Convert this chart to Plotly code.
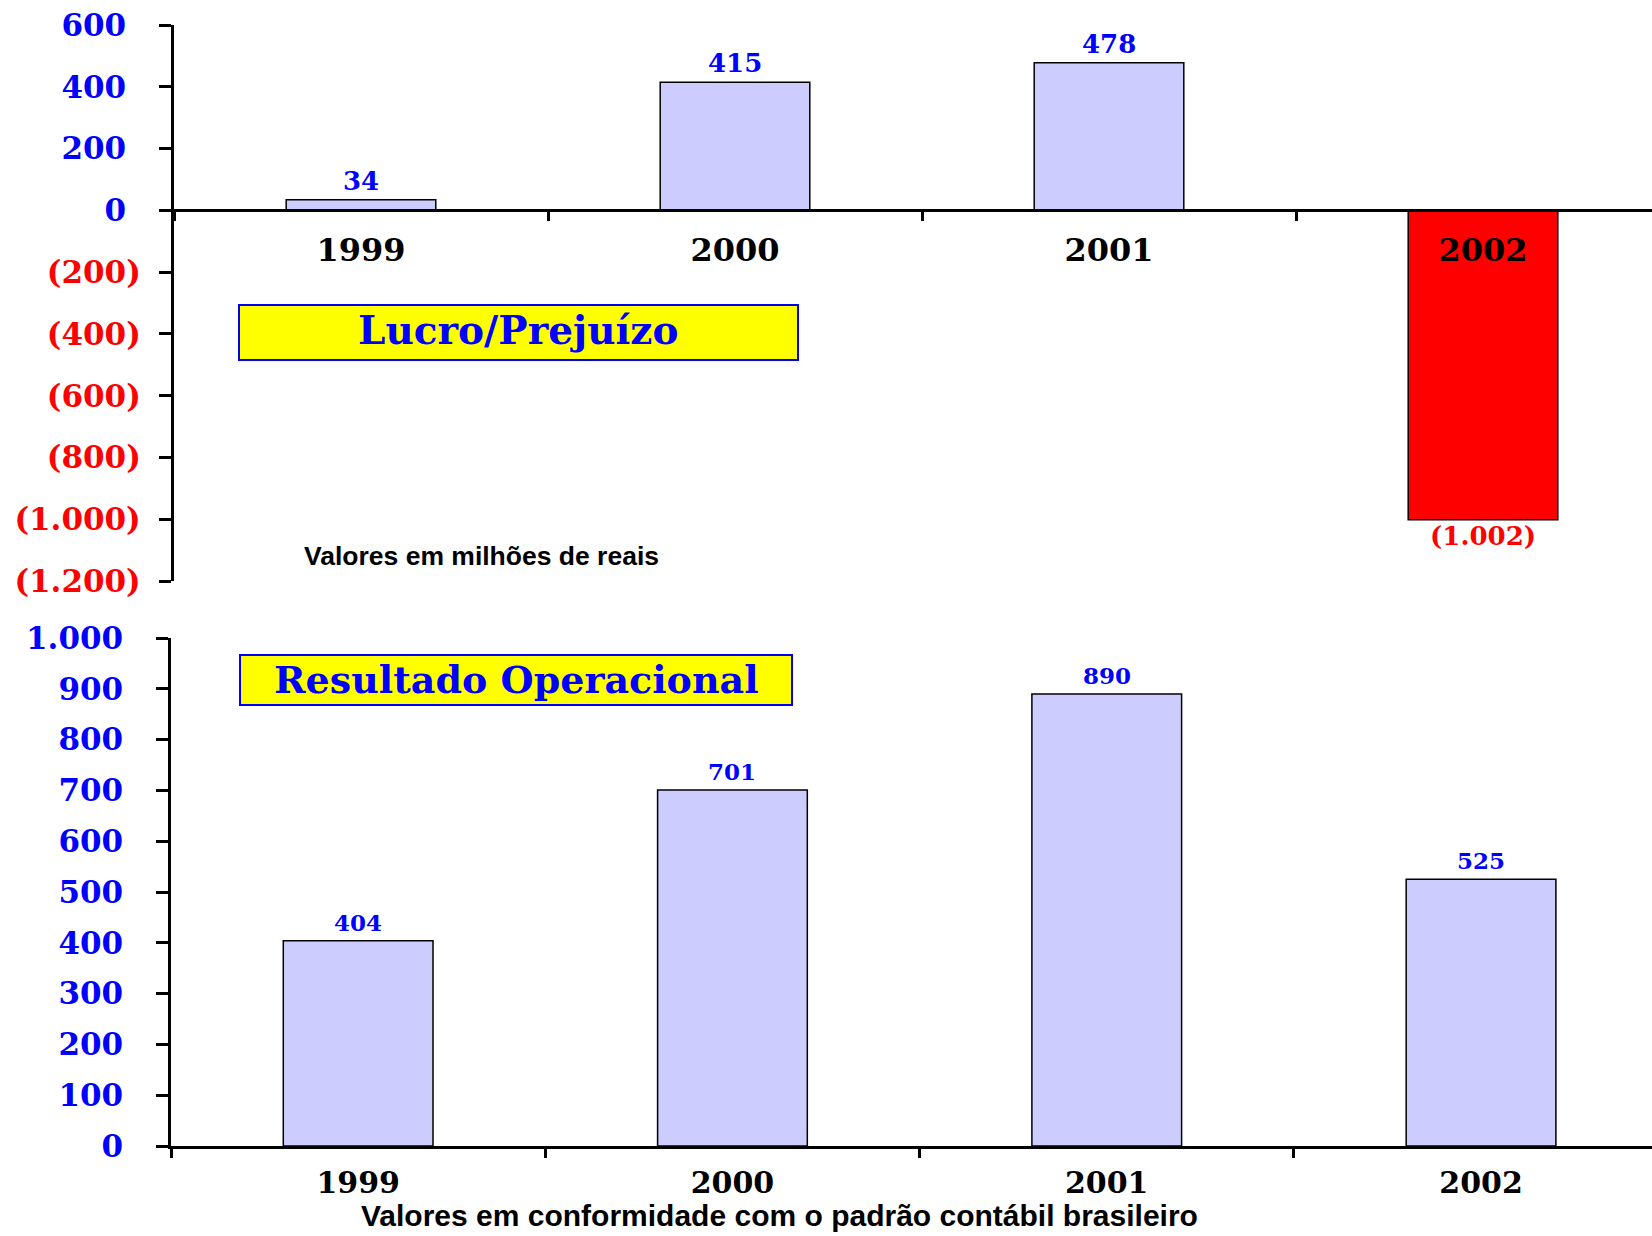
import plotly.graph_objects as go

# ---------------- data ----------------
years = ["1999", "2000", "2001", "2002"]
lucro = [34, 415, 478, -1002]
resultado = [404, 701, 890, 525]
lucro_ticks = [-1200, -1000, -800, -600, -400, -200, 0, 200, 400, 600]
result_ticks = [0, 100, 200, 300, 400, 500, 600, 700, 800, 900, 1000]

W, H = 1652, 1236
SERIF = "DejaVu Serif"
SANS = "Liberation Sans"
BLUE = "#0000FF"
RED = "#FF0000"
BAR = "#CCCCFF"


def num(v):
    s = f"{abs(v):,}".replace(",", ".")
    return f"({s})" if v < 0 else s


def tick_label(v):
    if v < 0:
        return f"<span style='color:{RED}'>{num(v)}</span>"
    return f"<span style='color:{BLUE}'>{num(v)}</span><span style='color:white'>)</span>"


def px(x):
    return x / W


def py(y):
    return 1 - y / H


fig = go.Figure()

fig.add_trace(go.Bar(
    x=years, y=lucro, width=0.4,
    marker=dict(color=[BAR if v >= 0 else RED for v in lucro],
                line=dict(color="black", width=1.5)),
    xaxis="x", yaxis="y", showlegend=False, hoverinfo="skip"))

fig.add_trace(go.Bar(
    x=years, y=resultado, width=0.4,
    marker=dict(color=BAR, line=dict(color="black", width=1.5)),
    xaxis="x2", yaxis="y2", showlegend=False, hoverinfo="skip"))

top_dom = [py(581), py(25)]
bot_dom = [py(1146), py(638)]
y_lo, y_hi = lucro_ticks[0], lucro_ticks[-1]
zero_pos = top_dom[0] + (0 - y_lo) / (y_hi - y_lo) * (top_dom[1] - top_dom[0])

axis_common = dict(showline=True, linecolor="black", linewidth=3,
                   ticks="outside", tickcolor="black", tickwidth=3,
                   showgrid=False, zeroline=False, automargin=False)

fig.update_layout(
    width=W, height=H,
    margin=dict(l=0, r=0, t=0, b=0, autoexpand=False),
    paper_bgcolor="white", plot_bgcolor="white",
    xaxis=dict(domain=[px(174), 1], anchor="free", position=zero_pos,
               type="category", range=[-0.5, -0.5 + (W - 174) / 374.0],
               tickson="boundaries", ticklen=9, ticklabelstandoff=10,
               tickfont=dict(family=SERIF, size=32, color="black", weight="bold"),
               **axis_common),
    yaxis=dict(domain=top_dom, anchor="x", range=[y_lo, y_hi],
               tickvals=lucro_ticks, ticktext=[tick_label(v) for v in lucro_ticks],
               ticklen=12, ticklabelstandoff=12,
               tickfont=dict(family=SERIF, size=31, weight="bold"),
               **axis_common),
    xaxis2=dict(domain=[px(171), 1], anchor="y2",
                type="category", range=[-0.5, -0.5 + (W - 171) / 374.3],
                tickson="boundaries", ticklen=9, ticklabelstandoff=8,
                tickfont=dict(family=SERIF, size=30, color="black", weight="bold"),
                **axis_common),
    yaxis2=dict(domain=bot_dom, anchor="x2", range=[result_ticks[0], result_ticks[-1]],
                tickvals=result_ticks, ticktext=[tick_label(v) for v in result_ticks],
                ticklen=12, ticklabelstandoff=12,
                tickfont=dict(family=SERIF, size=31, weight="bold"),
                **axis_common),
)

annotations = []
# data labels (x = category index on the categorical axis)
for i, v in enumerate(lucro):
    annotations.append(dict(
        x=i, y=v, xref="x", yref="y", text=num(v), showarrow=False,
        yanchor="bottom" if v >= 0 else "top", yshift=2 if v >= 0 else 1,
        font=dict(family=SERIF, size=26, color=BLUE if v >= 0 else RED, weight="bold")))
for i, v in enumerate(resultado):
    annotations.append(dict(
        x=i, y=v, xref="x2", yref="y2", text=num(v), showarrow=False,
        yanchor="bottom", yshift=3,
        font=dict(family=SERIF, size=23, color=BLUE, weight="bold")))

# titles in yellow boxes
shapes = [
    dict(type="rect", xref="paper", yref="paper", x0=px(239), x1=px(798), y0=py(360), y1=py(305),
         fillcolor="#FFFF00", line=dict(color=BLUE, width=2), layer="above"),
    dict(type="rect", xref="paper", yref="paper", x0=px(240), x1=px(792), y0=py(705), y1=py(655),
         fillcolor="#FFFF00", line=dict(color=BLUE, width=2), layer="above"),
]
annotations.append(dict(x=px(518), y=py(330), xref="paper", yref="paper", showarrow=False,
                        text="Lucro/Prejuízo", xanchor="center", yanchor="middle",
                        font=dict(family=SERIF, size=39, color=BLUE, weight="bold")))
annotations.append(dict(x=px(516), y=py(679), xref="paper", yref="paper", showarrow=False,
                        text="Resultado Operacional", xanchor="center", yanchor="middle",
                        font=dict(family=SERIF, size=38, color=BLUE, weight="bold")))
annotations.append(dict(x=px(481), y=py(556), xref="paper", yref="paper", showarrow=False,
                        text="Valores em milhões de reais", xanchor="center", yanchor="middle",
                        font=dict(family=SANS, size=26.5, color="black", weight="bold")))
annotations.append(dict(x=px(779), y=py(1215), xref="paper", yref="paper", showarrow=False,
                        text="Valores em conformidade com o padrão contábil brasileiro",
                        xanchor="center", yanchor="middle",
                        font=dict(family=SANS, size=30, color="black", weight="bold")))

fig.update_layout(annotations=annotations, shapes=shapes)

fig.write_html("out.html",
               config={"displayModeBar": False},
               post_script="document.body.style.margin='0px';document.body.style.overflow='hidden';")
